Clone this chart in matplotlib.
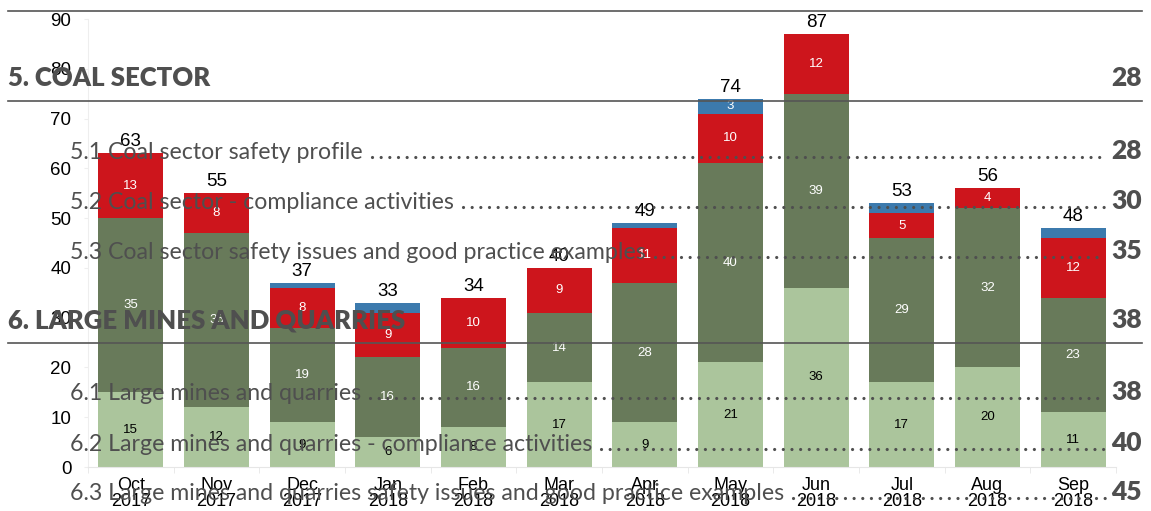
import matplotlib
matplotlib.use("Agg")
import matplotlib.pyplot as plt
import numpy as np
from matplotlib.lines import Line2D

months = ["Oct\n2017", "Nov\n2017", "Dec\n2017", "Jan\n2018", "Feb\n2018", "Mar\n2018",
          "Apr\n2018", "May\n2018", "Jun\n2018", "Jul\n2018", "Aug\n2018", "Sep\n2018"]
light = [15, 12, 9, 6, 8, 17, 9, 21, 36, 17, 20, 11]
dark = [35, 35, 19, 16, 16, 14, 28, 40, 39, 29, 32, 23]
red = [13, 8, 8, 9, 10, 9, 11, 10, 12, 5, 4, 12]
blue = [0, 0, 1, 2, 0, 0, 1, 3, 0, 2, 0, 2]

toc_headings = [("5. COAL SECTOR", "28"), ("6. LARGE MINES AND QUARRIES", "38")]
toc_entries = [
    ("5.1 Coal sector safety profile", "28"),
    ("5.2 Coal sector - compliance activities", "30"),
    ("5.3 Coal sector safety issues and good practice examples", "35"),
    ("6.1 Large mines and quarries", "38"),
    ("6.2 Large mines and quarries - compliance activities", "40"),
    ("6.3 Large mines and quarries safety issues and good practice examples", "45"),
]

W, H = 1151, 511
fig = plt.figure(figsize=(W / 100, H / 100), dpi=100)
ax = fig.add_axes([88 / W, 44 / H, 1028 / W, 448 / H])

series = [(light, "#abc59c", "black"), (dark, "#687a5a", "white"),
          (red, "#cd151c", "white"), (blue, "#3c7aad", "white")]
x = np.arange(len(months))
bottom = np.zeros(len(months))
for vals, col, tcol in series:
    vals = np.array(vals)
    ax.bar(x, vals, 0.76, bottom=bottom, color=col, zorder=2)
    for i, v in enumerate(vals):
        if v >= 3:
            ax.text(i, bottom[i] + v / 2, str(v), ha="center", va="center",
                    color=tcol, fontsize=9.5, family="Liberation Sans", zorder=3)
    bottom += vals

for i, t in enumerate(bottom):
    ax.text(i, t + 0.6, str(int(t)), ha="center", va="bottom", fontsize=13.5,
            family="Liberation Sans", zorder=3)

ax.set_xlim(-0.5, 11.5)
ax.set_ylim(0, 90)
ax.set_yticks(range(0, 91, 10))
ax.set_xticks(x)
ax.set_xticklabels(months, fontsize=13, family="Liberation Sans", linespacing=0.95)
ax.set_xticks(np.arange(-0.5, 12, 1), minor=True)
ax.tick_params(axis="x", which="major", length=0, pad=7)
ax.tick_params(axis="x", which="minor", length=4, color="#e6e6e6")
ax.tick_params(axis="y", length=3, color="#eeeeee", pad=9, labelsize=13.5)
for lab in ax.get_yticklabels():
    lab.set_family("Liberation Sans")
for s in ["top", "right"]:
    ax.spines[s].set_visible(False)
ax.spines["left"].set_color("#eeeeee")
ax.spines["bottom"].set_color("#e6e6e6")


def fx(px):
    return px / W


def fy(py):
    return 1 - py / H


toc_col = "#4f4f4f"
for yy in [11, 101, 343]:
    fig.add_artist(Line2D([fx(8), fx(1142)], [fy(yy), fy(yy)], color="#555555", lw=1.2))

head_y = [86, 328]
for (txt, pg), yy in zip(toc_headings, head_y):
    fig.text(fx(8), fy(yy), txt, fontsize=18.5, fontweight="heavy", family="Lato",
             color=toc_col, va="baseline", ha="left")
    fig.text(fx(1142), fy(yy), pg, fontsize=19, fontweight="heavy", family="Lato",
             color=toc_col, va="baseline", ha="right")

entry_y = [159, 209, 259, 400, 451, 500]
texts = []
for (txt, pg), yy in zip(toc_entries, entry_y):
    t = fig.text(fx(70), fy(yy), txt, fontsize=16.7, family="Lato",
                 color=toc_col, va="baseline", ha="left")
    fig.text(fx(1142), fy(yy), pg, fontsize=19, fontweight="heavy", family="Lato",
             color=toc_col, va="baseline", ha="right")
    texts.append((t, yy))

fig.canvas.draw()
r = fig.canvas.get_renderer()
for t, yy in texts:
    x1 = t.get_window_extent(r).x1
    fig.add_artist(Line2D([fx(x1 + 9), fx(1105)], [fy(yy - 2), fy(yy - 2)], color=toc_col,
                          lw=2.3, linestyle=(0, (0.01, 2.7)), dash_capstyle="round"))

fig.savefig("out.png", dpi=100)
